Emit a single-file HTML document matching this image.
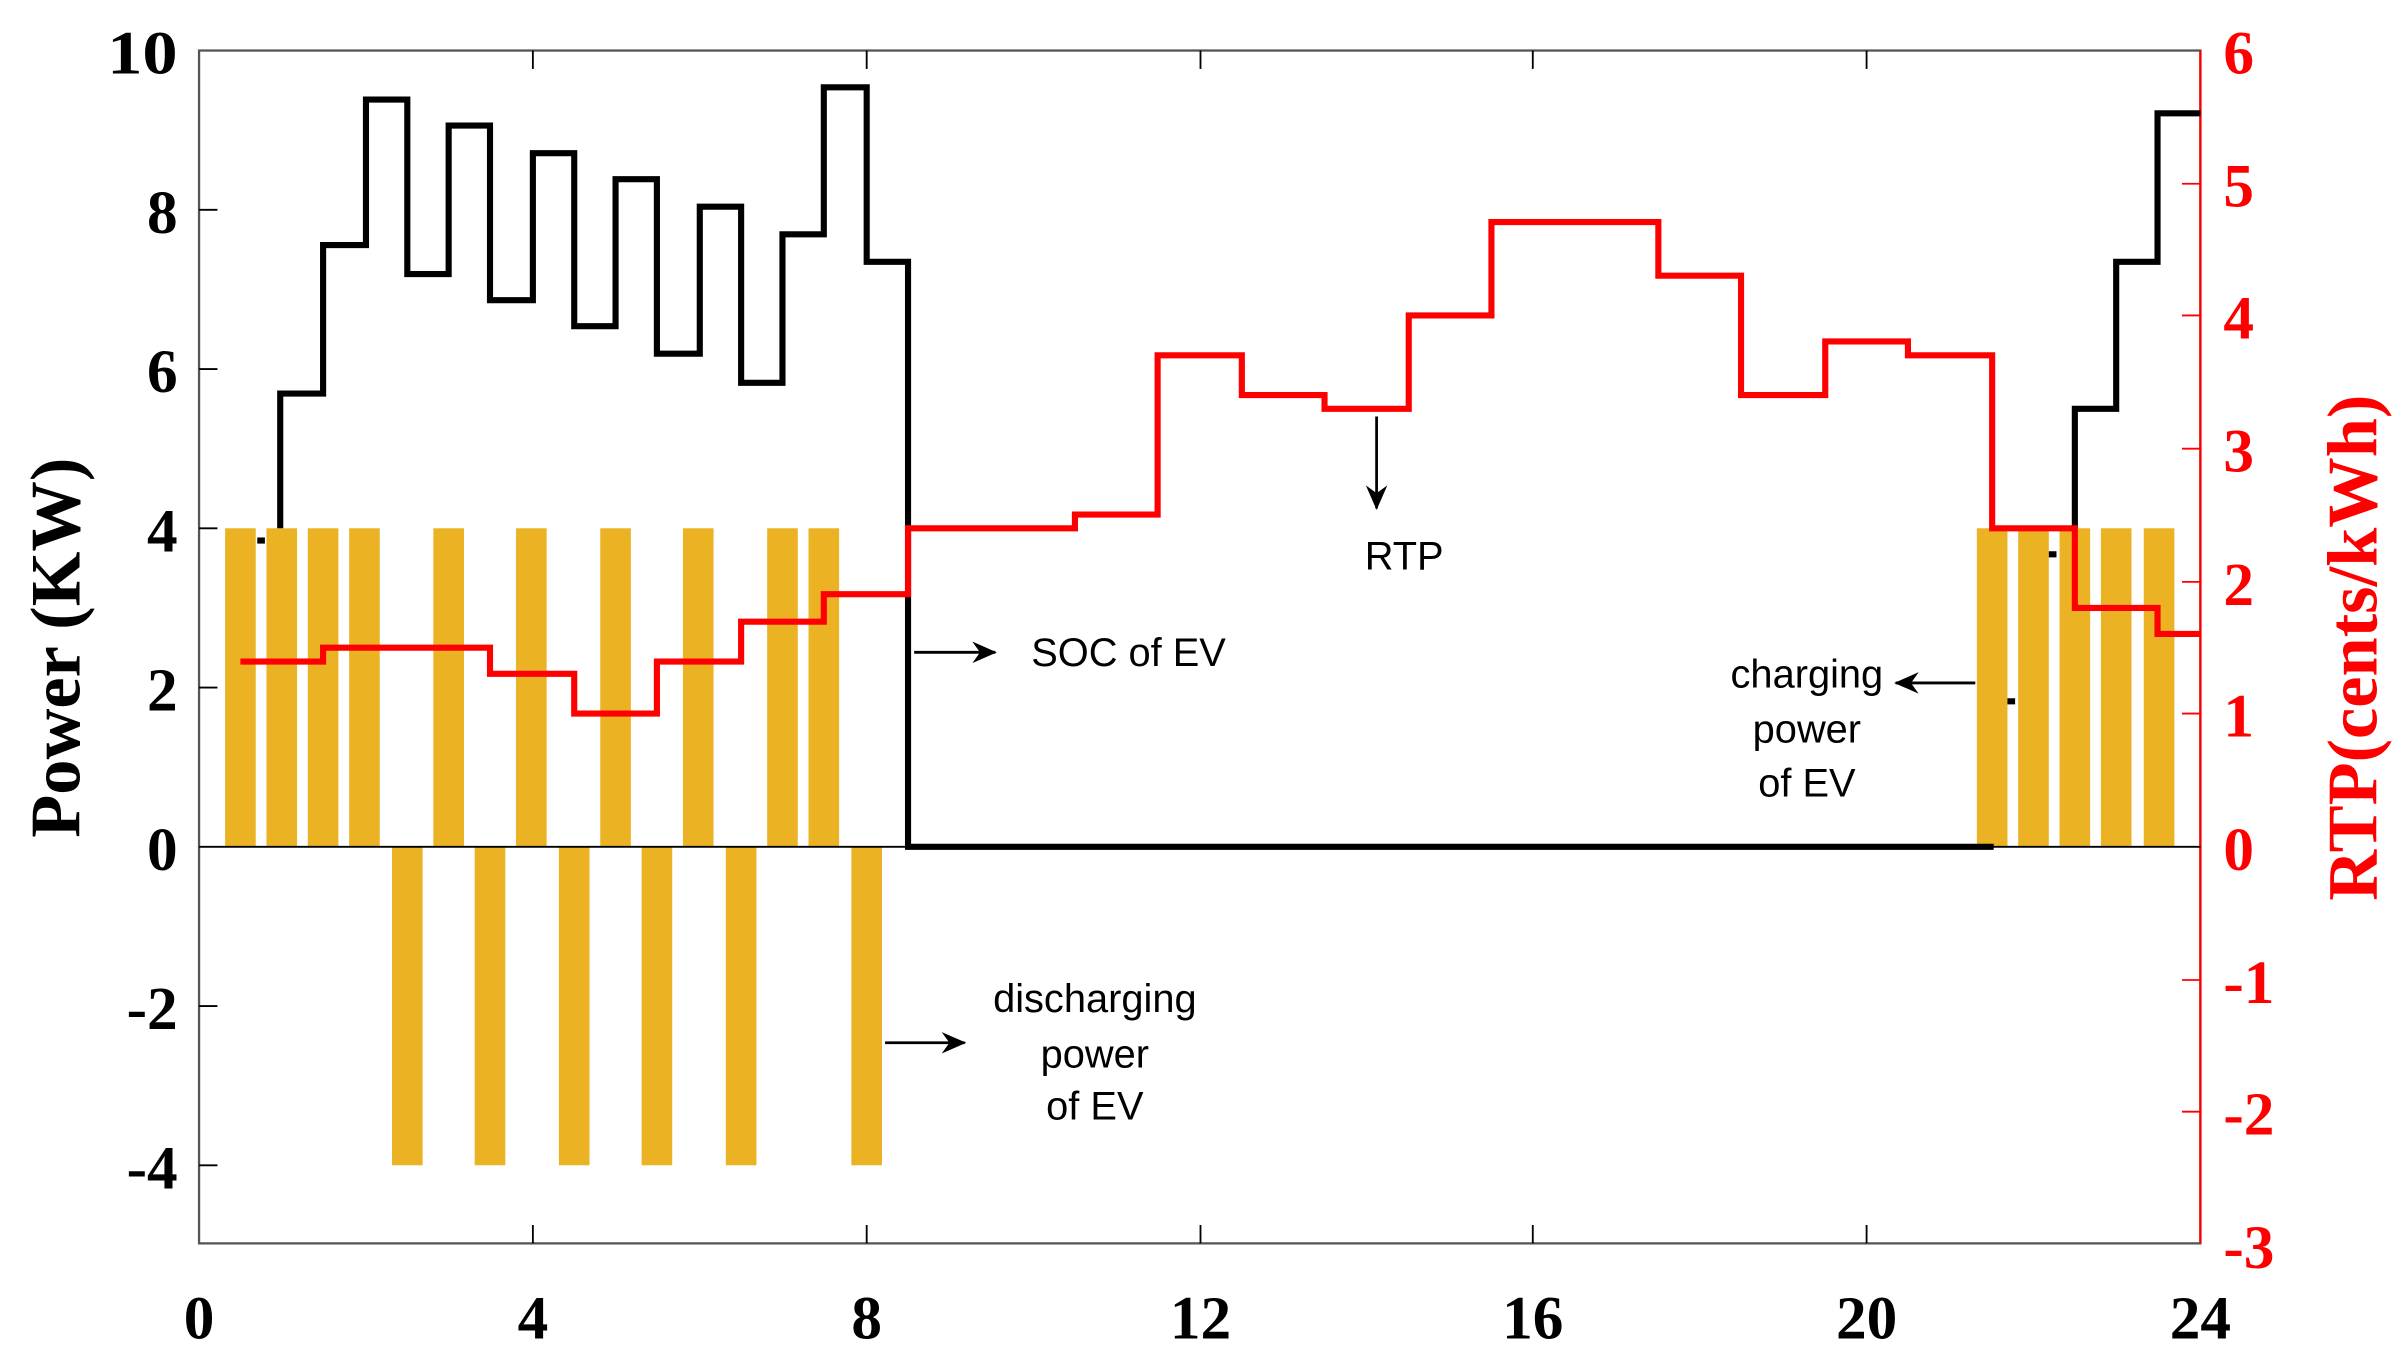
<!DOCTYPE html>
<html><head><meta charset="utf-8"><style>html,body{margin:0;padding:0;background:#fff}svg{display:block}</style></head>
<body>
<svg width="2401" height="1356" viewBox="0 0 1568 885.55" xmlns="http://www.w3.org/2000/svg">
<defs>
<marker id="ah" markerWidth="16" markerHeight="14" refX="15" refY="7" orient="auto" markerUnits="userSpaceOnUse"><path d="M0,0 L16,7 L0,14 L5,7 Z" fill="#000"/></marker>
</defs>
<rect width="1568" height="886" fill="#fff"/>
<g fill="#EBB224">
<rect x="147" y="345" width="20" height="208"/>
<rect x="174" y="345" width="20" height="208"/>
<rect x="201" y="345" width="20" height="208"/>
<rect x="228" y="345" width="20" height="208"/>
<rect x="283" y="345" width="20" height="208"/>
<rect x="337" y="345" width="20" height="208"/>
<rect x="392" y="345" width="20" height="208"/>
<rect x="446" y="345" width="20" height="208"/>
<rect x="501" y="345" width="20" height="208"/>
<rect x="528" y="345" width="20" height="208"/>
<rect x="1291" y="345" width="20" height="208"/>
<rect x="1318" y="345" width="20" height="208"/>
<rect x="1345" y="345" width="20" height="208"/>
<rect x="1372" y="345" width="20" height="208"/>
<rect x="1400" y="345" width="20" height="208"/>
<rect x="256" y="553" width="20" height="208"/>
<rect x="310" y="553" width="20" height="208"/>
<rect x="365" y="553" width="20" height="208"/>
<rect x="419" y="553" width="20" height="208"/>
<rect x="474" y="553" width="20" height="208"/>
<rect x="556" y="553" width="20" height="208"/>
</g>
<rect x="130" y="33" width="1307" height="779" fill="none" stroke="#555" stroke-width="1.5"/>
<line x1="1437" y1="33" x2="1437" y2="812" stroke="#f00" stroke-width="1.5"/>
<line x1="130" y1="553" x2="1437" y2="553" stroke="#000" stroke-width="1.2"/>
<g stroke="#000" stroke-width="1.2">
<line x1="348" y1="812" x2="348" y2="800"/><line x1="566" y1="812" x2="566" y2="800"/><line x1="784" y1="812" x2="784" y2="800"/><line x1="1001" y1="812" x2="1001" y2="800"/><line x1="1219" y1="812" x2="1219" y2="800"/>
<line x1="348" y1="33" x2="348" y2="45"/><line x1="566" y1="33" x2="566" y2="45"/><line x1="784" y1="33" x2="784" y2="45"/><line x1="1001" y1="33" x2="1001" y2="45"/><line x1="1219" y1="33" x2="1219" y2="45"/>
<line x1="130" y1="137" x2="142" y2="137"/><line x1="130" y1="241" x2="142" y2="241"/><line x1="130" y1="345" x2="142" y2="345"/><line x1="130" y1="449" x2="142" y2="449"/><line x1="130" y1="657" x2="142" y2="657"/><line x1="130" y1="761" x2="142" y2="761"/>
</g>
<g stroke="#f00" stroke-width="1.2">
<line x1="1437" y1="120" x2="1425" y2="120"/><line x1="1437" y1="206" x2="1425" y2="206"/><line x1="1437" y1="293" x2="1425" y2="293"/><line x1="1437" y1="380" x2="1425" y2="380"/><line x1="1437" y1="466" x2="1425" y2="466"/><line x1="1437" y1="640" x2="1425" y2="640"/><line x1="1437" y1="726" x2="1425" y2="726"/>
</g>
<polyline fill="none" stroke="#000" stroke-width="4" points="183,345 183,257 211,257 211,160 239,160 239,65 266,65 266,179 293,179 293,82 320,82 320,196 348,196 348,100 375,100 375,213 402,213 402,117 429,117 429,231 457,231 457,135 484,135 484,250 511,250 511,153 538,153 538,57 566,57 566,171 593,171 593,553 1302,553"/>
<rect x="168" y="351" width="5" height="4" fill="#000"/>
<rect x="1311" y="456" width="5" height="4" fill="#000"/>
<rect x="1338" y="360" width="5" height="4" fill="#000"/>
<polyline fill="none" stroke="#000" stroke-width="4" points="1355,345 1355,267 1382,267 1382,171 1409,171 1409,74 1437,74"/>
<polyline fill="none" stroke="#f00" stroke-width="4" points="157,432 211,432 211,423 320,423 320,440 375,440 375,466 429,466 429,432 484,432 484,406 538,406 538,388 593,388 593,345 702,345 702,336 756,336 756,232 811,232 811,258 865,258 865,267 920,267 920,206 974,206 974,145 1083,145 1083,180 1137,180 1137,258 1192,258 1192,223 1246,223 1246,232 1301,232 1301,345 1355,345 1355,397 1409,397 1409,414 1437,414"/>
<g stroke="#000" stroke-width="1.8" fill="none">
<line x1="597" y1="426" x2="650" y2="426" marker-end="url(#ah)"/>
<line x1="899" y1="272" x2="899" y2="332" marker-end="url(#ah)"/>
<line x1="578" y1="681" x2="630" y2="681" marker-end="url(#ah)"/>
<line x1="1290" y1="446" x2="1238" y2="446" marker-end="url(#ah)"/>
</g>
<g font-family="Liberation Sans, sans-serif" font-size="26" fill="#000" text-anchor="middle">
<text x="737" y="435">SOC of EV</text>
<text x="917" y="372">RTP</text>
<text x="715" y="661">discharging</text><text x="715" y="697">power</text><text x="715" y="731">of EV</text>
<text x="1180" y="449">charging</text><text x="1180" y="485">power</text><text x="1180" y="520">of EV</text>
</g>
<g font-family="Liberation Serif, serif" font-weight="bold" font-size="40" fill="#000" text-anchor="end">
<text x="116" y="48" textLength="46" lengthAdjust="spacingAndGlyphs">10</text><text x="116" y="152">8</text><text x="116" y="256">6</text><text x="116" y="360">4</text><text x="116" y="464">2</text><text x="116" y="568">0</text><text x="116" y="672">-2</text><text x="116" y="776">-4</text>
</g>
<g font-family="Liberation Serif, serif" font-weight="bold" font-size="40" fill="#000" text-anchor="middle">
<text x="130" y="874">0</text><text x="348" y="874">4</text><text x="566" y="874">8</text><text x="784" y="874">12</text><text x="1001" y="874">16</text><text x="1219" y="874">20</text><text x="1437" y="874">24</text>
</g>
<g font-family="Liberation Serif, serif" font-weight="bold" font-size="40" fill="#f00" text-anchor="start">
<text x="1452" y="48">6</text><text x="1452" y="135">5</text><text x="1452" y="221">4</text><text x="1452" y="308">3</text><text x="1452" y="395">2</text><text x="1452" y="481">1</text><text x="1452" y="568">0</text><text x="1452" y="655">-1</text><text x="1452" y="741">-2</text><text x="1452" y="828">-3</text>
</g>
<text transform="translate(52,423) rotate(-90)" font-family="Liberation Serif, serif" font-weight="bold" font-size="46" text-anchor="middle" fill="#000">Power (KW)</text>
<text transform="translate(1552,423) rotate(-90)" font-family="Liberation Serif, serif" font-weight="bold" font-size="46" text-anchor="middle" fill="#f00">RTP(cents/kWh)</text>
</svg>
</body></html>
